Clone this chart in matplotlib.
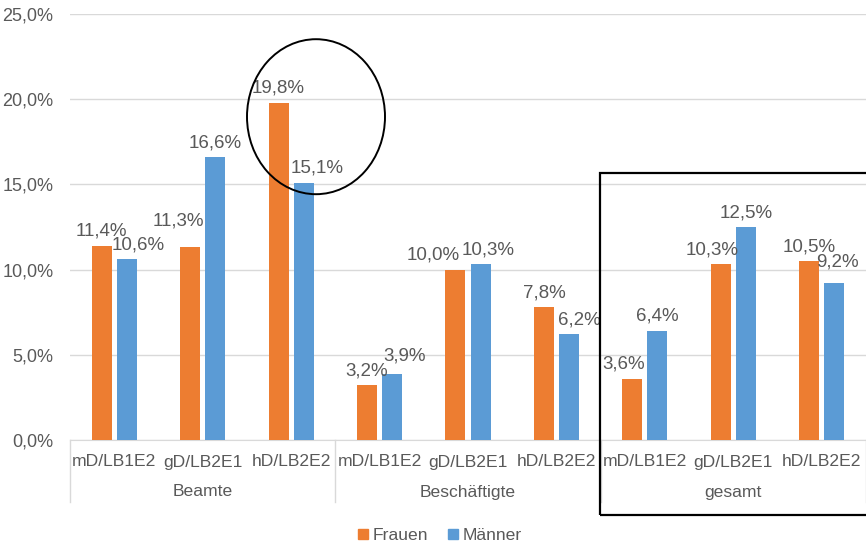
import matplotlib
matplotlib.use('Agg')
import matplotlib.pyplot as plt  # noqa
from matplotlib.patches import Rectangle, Ellipse  # noqa
from matplotlib.lines import Line2D  # noqa
import numpy as np  # noqa

groups = ['Beamte', 'Beschäftigte', 'gesamt']
levels = ['mD/LB1E2', 'gD/LB2E1', 'hD/LB2E2']
frauen = [11.4, 11.3, 19.8, 3.2, 10.0, 7.8, 3.6, 10.3, 10.5]
maenner = [10.6, 16.6, 15.1, 3.9, 10.3, 6.2, 6.4, 12.5, 9.2]

# label nudges in pixels (as placed in the original)
frauen_dx = [0, -12, 0, 0, -22, 0, -9, -9, 0]
maenner_dx = [11, 0, 13, 12, 8, 10, 0, 0, 3]
maenner_dy = [10, 10, 10, 13, 10, 10, 10, 10, 17]
frauen_dy = [10, 22, 10, 10, 10, 10, 10, 10, 10]

orange = '#ED7D31'
blue = '#5B9BD5'
grey_text = '#595959'
grid_col = '#D9D9D9'

plt.rcParams['font.family'] = ['Liberation Sans', 'DejaVu Sans']
plt.rcParams['font.size'] = 13

W, H = 866, 544
fig = plt.figure(figsize=(W / 100, H / 100), dpi=100)
ax = fig.add_axes([70 / W, 1 - 440 / H, 796 / W, 426 / H])

x = np.arange(len(frauen))
bw = 0.225
off = 0.142
bars_f = ax.bar(x - off, frauen, bw, color=orange, zorder=3)
bars_m = ax.bar(x + off, maenner, bw, color=blue, zorder=3)

def fmt(v):
    return f'{v:.1f}%'.replace('.', ',')

for i, b in enumerate(bars_f):
    ax.annotate(fmt(frauen[i]), (b.get_x() + b.get_width() / 2, b.get_height()),
                xytext=(frauen_dx[i], frauen_dy[i]), textcoords='offset pixels',
                ha='center', va='baseline', color=grey_text, fontsize=13.5)
for i, b in enumerate(bars_m):
    ax.annotate(fmt(maenner[i]), (b.get_x() + b.get_width() / 2, b.get_height()),
                xytext=(maenner_dx[i], maenner_dy[i]), textcoords='offset pixels',
                ha='center', va='baseline', color=grey_text, fontsize=13.5)

ax.set_xlim(-0.5, len(frauen) - 0.5)
ax.set_ylim(0, 25)
ax.set_yticks(np.arange(0, 26, 5))
ax.set_yticklabels([fmt(v) for v in np.arange(0, 26, 5)])
ax.yaxis.grid(True, color=grid_col, linewidth=1)
ax.set_axisbelow(True)
ax.tick_params(axis='y', length=0, pad=12, labelcolor=grey_text, labelsize=13)
ax.set_xticks([])
for s in ['top', 'right', 'left']:
    ax.spines[s].set_visible(False)
ax.spines['bottom'].set_color(grid_col)

# two-level category axis
trans = ax.get_xaxis_transform()
for g, name in enumerate(groups):
    for k, lev in enumerate(levels):
        ax.text(g * 3 + k, -22 / 426, lev, transform=trans, ha='center', va='center',
                color=grey_text, fontsize=12.6)
    ax.text(g * 3 + 1, -52 / 426, name, transform=trans, ha='center', va='center',
            color=grey_text, fontsize=12.6)
for sep in [-0.5, 2.5, 5.5, 8.5]:
    ax.plot([sep, sep], [0, -62 / 426], transform=trans, color=grid_col,
            linewidth=1, clip_on=False)

handles = [Line2D([], [], marker='s', linestyle='', color=orange, markersize=7),
           Line2D([], [], marker='s', linestyle='', color=blue, markersize=7)]
fig.legend(handles, ['Frauen', 'Männer'], loc='center', bbox_to_anchor=(440 / W, 1 - 535 / H),
           ncol=2, frameon=False, handlelength=0.6, handletextpad=0.25, columnspacing=1.1,
           labelcolor=grey_text, fontsize=12.6)

# highlight shapes
fig.patches.append(Rectangle((600 / W, 1 - 515 / H), 270 / W, 342 / H, transform=fig.transFigure,
                             fill=False, edgecolor='black', linewidth=1.6, zorder=5))
fig.patches.append(Ellipse((316 / W, 1 - 116.7 / H), 138 / W, 155 / H, transform=fig.transFigure,
                           fill=False, edgecolor='black', linewidth=1.4, zorder=5))

fig.savefig('out.png', dpi=100)
